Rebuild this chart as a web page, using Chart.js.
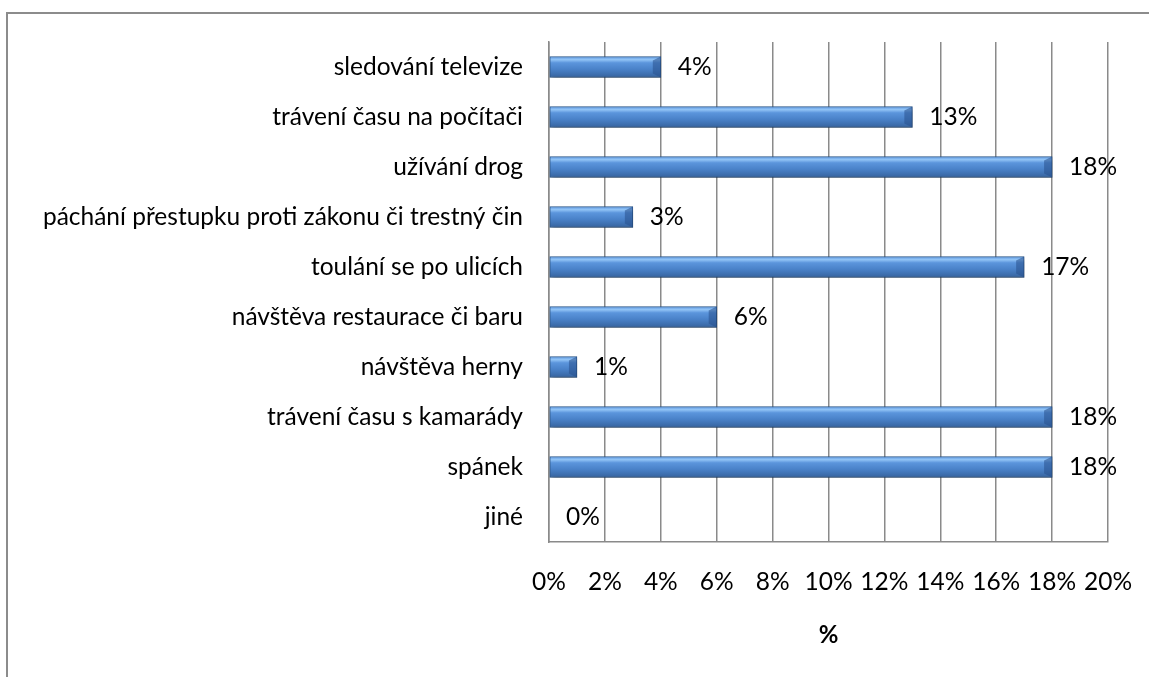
<!DOCTYPE html>
<html>
<head>
<meta charset="utf-8">
<script src="https://cdn.jsdelivr.net/npm/chart.js@4/dist/chart.umd.min.js"></script>
<style>
  html, body { margin: 0; padding: 0; background: #fff; }
  #wrap { position: relative; width: 1149px; height: 677px; overflow: hidden; }
  #frame { position: absolute; left: 6px; top: 12px; width: 1200px; height: 700px;
           border-top: 2px solid #8c8c8c; border-left: 2px solid #8c8c8c; }
  #chart { position: absolute; left: 0; top: 0; }
</style>
</head>
<body>
<div id="wrap">
  <div id="frame"></div>
  <canvas id="chart" width="1149" height="677"></canvas>
</div>
<script>
/* ---------- data ---------- */
const categories = [
  "sledování televize",
  "trávení času na počítači",
  "užívání drog",
  "páchání přestupku proti zákonu či trestný čin",
  "toulání se po ulicích",
  "návštěva restaurace či baru",
  "návštěva herny",
  "trávení času s kamarády",
  "spánek",
  "jiné"
];
const values = [4, 13, 18, 3, 17, 6, 1, 18, 18, 0];
const valueLabels = ["4%", "13%", "18%", "3%", "17%", "6%", "1%", "18%", "18%", "0%"];
const xTicks = [0, 2, 4, 6, 8, 10, 12, 14, 16, 18, 20];
const axisTitle = "%";

const FONT = "Lato";
const GRID = "#8a8a8a";
const BAR_H = 21;

/* gradient per bar, so each looks like a rounded tube */
function barFill(ctx) {
  const chart = ctx.chart;
  if (!chart.chartArea || ctx.dataIndex === undefined) return "#4f86cc";
  const yc = chart.scales.y.getPixelForValue(ctx.dataIndex);
  const g = chart.ctx.createLinearGradient(0, yc - BAR_H / 2, 0, yc + BAR_H / 2);
  g.addColorStop(0, "#5c98e2");
  g.addColorStop(0.15, "#92c4f6");
  g.addColorStop(0.3, "#5b95dc");
  g.addColorStop(0.6, "#4a82c9");
  g.addColorStop(1, "#36639e");
  return g;
}

/* soft drop shadow under the bars + bevelled right end */
const barShadow = {
  id: "barShadow",
  beforeDatasetDraw(chart) {
    const c = chart.ctx;
    c.save();
    c.shadowColor = "rgba(0,0,0,0.35)";
    c.shadowBlur = 5;
    c.shadowOffsetX = 2;
    c.shadowOffsetY = 3;
  },
  afterDatasetDraw(chart) {
    const c = chart.ctx;
    c.restore();
    const meta = chart.getDatasetMeta(0);
    c.save();
    meta.data.forEach(bar => {
      const w = bar.x - bar.base;
      if (w < 4) return;
      const top = bar.y - BAR_H / 2, bot = bar.y + BAR_H / 2;
      const d = Math.min(8, w / 3);
      c.fillStyle = "rgba(40,80,140,0.55)";
      c.beginPath();
      c.moveTo(bar.x - d, top + 4);
      c.lineTo(bar.x, top);
      c.lineTo(bar.x, bot);
      c.lineTo(bar.x - d, bot - 4);
      c.closePath();
      c.fill();
    });
    c.restore();
  }
};

/* value labels right of each bar */
const valueText = {
  id: "valueText",
  afterDatasetsDraw(chart) {
    const c = chart.ctx;
    const meta = chart.getDatasetMeta(0);
    c.save();
    c.font = "24.5px " + FONT;
    c.fillStyle = "#000";
    c.textAlign = "left";
    c.textBaseline = "middle";
    meta.data.forEach((bar, i) => {
      c.fillText(valueLabels[i], bar.x + 17, bar.y);
    });
    c.restore();
  }
};

new Chart(document.getElementById("chart"), {
  type: "bar",
  data: {
    labels: categories,
    datasets: [{
      data: values,
      backgroundColor: barFill,
      borderColor: "#2f5b8f",
      borderWidth: 1,
      borderSkipped: false,
      barThickness: BAR_H
    }]
  },
  plugins: [barShadow, valueText],
  options: {
    indexAxis: "y",
    responsive: false,
    animation: false,
    layout: { padding: { top: 42, right: 41, left: 0, bottom: 0 } },
    plugins: {
      legend: { display: false },
      tooltip: { enabled: false }
    },
    scales: {
      x: {
        min: 0,
        max: 20,
        afterBuildTicks: s => { s.ticks = xTicks.map(v => ({ value: v })); },
        // keep the plot edge where the reference has it
        afterFit: s => { s.height = 135; s.paddingLeft = 0; s.paddingRight = 0; },
        grid: { color: GRID, lineWidth: 1.5, drawTicks: false },
        border: { color: GRID, width: 1.5 },
        ticks: {
          color: "#000",
          font: { family: FONT, size: 24.5 },
          padding: 25,
          maxRotation: 0,
          callback: v => v + "%"
        },
        title: {
          display: true,
          text: axisTitle,
          color: "#000",
          font: { family: FONT, size: 24, weight: "bold" },
          padding: { top: 0, bottom: 27 }
        }
      },
      y: {
        afterFit: s => { s.width = 549; },
        grid: { display: false, drawTicks: false },
        border: { color: GRID, width: 1.5 },
        ticks: {
          color: "#000",
          font: { family: FONT, size: 24.5 },
          padding: 26
        }
      }
    }
  }
});
</script>
</body>
</html>
